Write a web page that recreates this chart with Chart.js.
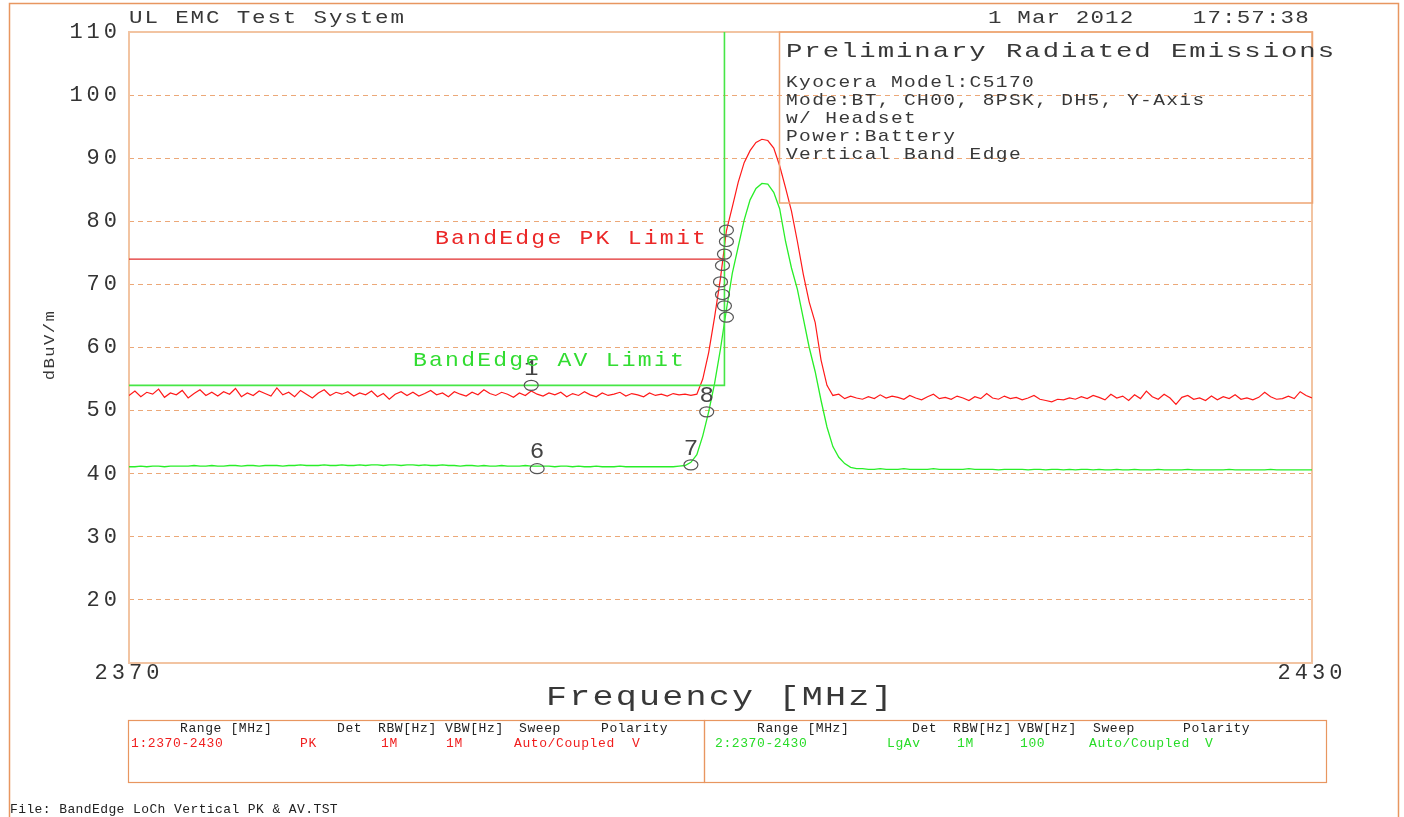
<!DOCTYPE html>
<html>
<head>
<meta charset="utf-8">
<title>Preliminary Radiated Emissions</title>
<script src="https://cdn.jsdelivr.net/npm/chart.js@4.4.1/dist/chart.umd.min.js"></script>
<style>
  html, body { margin: 0; padding: 0; background: #fff; }
  #mycanvas { display: block; }
</style>
</head>
<body>
<canvas id="mycanvas" width="1404" height="817"></canvas>
<script>
// sweep grid 2370 - 2430 MHz, 201 points
var sweepStart = 2370, sweepStep = 0.3, sweepPoints = 201;
var freqMHz = [];
for (var n = 0; n < sweepPoints; n++) freqMHz.push(+(sweepStart + n * sweepStep).toFixed(1));

// trace 1: peak detector (dBuV/m)
var pkLevel = [
  52.4,53.1,52.2,52.9,52.6,53.4,52.1,52.8,52.5,53.2,
  52.0,52.7,53.3,52.4,52.9,52.3,53.0,52.6,53.5,52.2,
  52.8,52.4,53.1,52.7,52.3,53.6,52.5,52.9,52.2,53.2,
  52.6,52.0,52.8,53.3,52.4,52.9,52.6,53.0,52.3,52.8,
  52.5,53.1,52.2,52.7,51.8,52.6,53.0,52.4,52.9,52.3,
  52.7,53.2,52.5,52.8,52.2,53.0,52.6,52.3,52.9,52.5,
  53.3,52.7,52.4,52.9,52.6,52.1,52.8,52.4,53.1,52.6,
  52.3,52.8,52.5,52.9,52.2,52.7,52.4,53.0,52.5,52.2,
  52.8,52.4,52.6,52.9,52.3,52.7,52.5,52.2,52.8,52.4,
  52.6,52.3,52.7,52.5,52.6,52.4,52.6,
  55.0,59.2,64.8,71.0,78.5,82.3,86.2,89.3,91.2,92.5,
  93.0,92.8,91.6,88.8,85.3,81.6,76.8,71.6,67.2,64.0,
  58.0,54.0,52.4,
  52.6,51.9,52.3,52.0,51.8,52.2,51.9,52.5,52.0,52.3,
  52.1,51.8,52.4,52.0,51.7,52.2,52.6,51.9,52.1,51.8,
  52.3,52.0,51.6,52.2,51.9,52.7,52.0,51.8,52.3,51.9,
  52.1,51.7,52.0,52.4,51.8,51.6,51.4,51.8,51.7,52.0,
  51.8,52.2,51.9,52.4,52.1,51.7,52.6,52.0,52.3,51.6,
  52.5,51.9,53.1,52.2,51.8,52.6,52.0,51.0,52.1,52.4,
  51.8,52.0,51.6,52.3,51.7,52.2,51.9,52.5,51.8,52.0,
  51.7,52.1,52.9,52.2,51.8,51.9,52.3,51.9,53.0,52.4,
  52.0
];

// trace 2: log average detector (dBuV/m)
var avLevel = [
  41.1,41.1,41.2,41.1,41.2,41.2,41.1,41.2,41.2,41.2,
  41.2,41.3,41.2,41.2,41.3,41.2,41.2,41.3,41.3,41.2,
  41.3,41.3,41.2,41.3,41.3,41.3,41.2,41.3,41.3,41.4,
  41.3,41.3,41.3,41.4,41.3,41.3,41.4,41.3,41.3,41.4,
  41.3,41.4,41.4,41.3,41.4,41.4,41.3,41.4,41.4,41.3,
  41.4,41.3,41.3,41.4,41.3,41.3,41.2,41.3,41.3,41.2,
  41.3,41.2,41.2,41.3,41.2,41.2,41.2,41.3,41.2,41.2,
  41.2,41.2,41.1,41.2,41.2,41.1,41.2,41.1,41.1,41.2,
  41.1,41.1,41.1,41.2,41.1,41.1,41.1,41.1,41.1,41.1,
  41.1,41.1,41.1,41.2,
  41.3,41.8,43.0,46.0,49.8,54.3,59.8,66.0,71.8,76.0,
  80.2,83.4,85.2,86.0,85.9,84.6,82.0,76.8,72.6,69.2,
  64.6,60.0,56.2,51.6,47.4,44.3,42.6,41.6,41.0,40.8,
  40.8,40.7,40.7,40.8,40.7,40.7,40.7,40.8,40.7,40.7,
  40.7,40.7,40.8,40.7,40.7,40.7,40.7,40.7,40.8,40.7,
  40.7,40.7,40.7,40.6,40.7,40.7,40.7,40.7,40.6,40.7,
  40.7,40.6,40.7,40.7,40.6,40.7,40.6,40.7,40.7,40.6,
  40.7,40.6,40.6,40.7,40.6,40.6,40.7,40.6,40.6,40.6,
  40.7,40.6,40.6,40.6,40.6,40.7,40.6,40.6,40.6,40.6,
  40.6,40.6,40.7,40.6,40.6,40.6,40.6,40.6,40.6,40.7,
  40.6,40.6,40.6,40.6,40.6,40.6,40.6
];

// band edge limits
var pkLimitFreq = [2370, 2400.2];
var pkLimitLevel = [74, 74];
var avLimitFreq = [2370, 2400.2, 2400.2];
var avLimitLevel = [54, 54, 110];

// markers
var markerFreq  = [2390.4, 2390.7, 2398.5, 2399.3, 2400.3, 2400.3, 2400.2, 2400.1, 2400.0, 2400.1, 2400.2, 2400.3];
var markerLevel = [54.0, 40.8, 41.4, 49.8, 78.6, 76.8, 74.8, 73.0, 70.4, 68.4, 66.6, 64.8];
var markerLabel = ['1', '6', '7', '8', '', '', '', '', '', '', '', ''];

// axes
var xTicks = [2370, 2430];
var yTicks = [20, 30, 40, 50, 60, 70, 80, 90, 100, 110];

var infoLines = ['Kyocera Model:C5170', 'Mode:BT, CH00, 8PSK, DH5, Y-Axis', 'w/ Headset', 'Power:Battery', 'Vertical Band Edge'];

var MONO = '"Liberation Mono", "DejaVu Sans Mono", monospace';
var ORANGE = 'rgb(232,150,96)';

// text drawn with a horizontal stretch to imitate the wide plotter font
function txt(c, s, x, y, size, color, sx, spacing, align) {
    c.save();
    c.translate(x, y);
    c.scale(sx, 1);
    c.font = size + 'px ' + MONO;
    c.fillStyle = color;
    c.letterSpacing = spacing + 'px';
    c.textAlign = align || 'left';
    c.textBaseline = 'middle';
    c.fillText(s, 0, 0);
    c.restore();
}

var framePlugin = {
    id: 'frame',
    beforeDraw: function(chart) {
        chart.ctx.letterSpacing = '4px';
    },
    beforeDatasetsDraw: function(chart) {
        var c = chart.ctx, a = chart.chartArea;
        c.save();
        c.strokeStyle = 'rgb(242,196,162)';
        c.lineWidth = 2;
        c.strokeRect(a.left, a.top, a.right - a.left, a.bottom - a.top);
        c.restore();
    },
    afterDatasetsDraw: function(chart) {
        var c = chart.ctx, xs = chart.scales.x, ys = chart.scales.y;
        c.save();
        c.strokeStyle = '#555';
        c.lineWidth = 1.2;
        for (var i = 0; i < markerFreq.length; i++) {
            var px = xs.getPixelForValue(markerFreq[i]);
            var py = ys.getPixelForValue(markerLevel[i]);
            c.beginPath();
            c.ellipse(px, py, 7, 5, 0, 0, Math.PI * 2);
            c.stroke();
            if (markerLabel[i]) txt(c, markerLabel[i], px, py - 16, 22, '#444', 1.1, 0, 'center');
        }
        c.restore();
    },
    afterDraw: function(chart) {
        var c = chart.ctx;
        c.save();
        // outer frame
        c.strokeStyle = ORANGE;
        c.lineWidth = 1.5;
        c.beginPath();
        c.moveTo(9.5, 817); c.lineTo(9.5, 3.5); c.lineTo(1398.5, 3.5); c.lineTo(1398.5, 817);
        c.stroke();
        // info box
        c.strokeStyle = 'rgb(238,165,115)';
        c.lineWidth = 1.5;
        c.strokeRect(779.5, 32, 533, 171);
        // table boxes
        c.strokeStyle = ORANGE;
        c.lineWidth = 1.2;
        c.strokeRect(128.5, 720.5, 576, 62);
        c.strokeRect(704.5, 720.5, 622, 62);
        c.restore();

        var ink = '#383838';
        txt(c, 'UL EMC Test System', 129, 18, 18, ink, 1.25, 1.5);
        txt(c, '1 Mar 2012    17:57:38', 988, 18, 18, ink, 1.25, 0.9);
        txt(c, 'Preliminary Radiated Emissions', 786, 51, 21, ink, 1.3, 1.5);
        for (var i = 0; i < infoLines.length; i++) txt(c, infoLines[i], 786, 82 + i * 18, 17, ink, 1.15, 1.2);
        txt(c, 'BandEdge PK Limit', 435, 238, 21, 'rgb(235,40,40)', 1.1, 2);
        txt(c, 'BandEdge AV Limit', 413, 360, 21, 'rgb(50,220,50)', 1.1, 2);
        txt(c, 'Frequency [MHz]', 546, 698, 28, ink, 1.25, 1.8);

        c.save();
        c.translate(50, 345);
        c.rotate(-Math.PI / 2);
        txt(c, 'dBuV/m', 0, 0, 15, ink, 1.15, 1.2, 'center');
        c.restore();

        // table
        var hdr = [['Range [MHz]', 180], ['Det', 337], ['RBW[Hz]', 378], ['VBW[Hz]', 445], ['Sweep', 519], ['Polarity', 601],
                   ['Range [MHz]', 757], ['Det', 912], ['RBW[Hz]', 953], ['VBW[Hz]', 1018], ['Sweep', 1093], ['Polarity', 1183]];
        hdr.forEach(function(h) { txt(c, h[0], h[1], 729, 13, '#222', 1, 0.6); });
        var row1 = [['1:2370-2430', 131], ['PK', 300], ['1M', 381], ['1M', 446], ['Auto/Coupled', 514], ['V', 632]];
        var row2 = [['2:2370-2430', 715], ['LgAv', 887], ['1M', 957], ['100', 1020], ['Auto/Coupled', 1089], ['V', 1205]];
        row1.forEach(function(h) { txt(c, h[0], h[1], 744, 13, 'rgb(240,30,30)', 1, 0.6); });
        row2.forEach(function(h) { txt(c, h[0], h[1], 744, 13, 'rgb(40,220,40)', 1, 0.6); });

        txt(c, 'File: BandEdge LoCh Vertical PK & AV.TST', 10, 810, 13, '#222', 1, 0.4);
    }
};

function pairs(fs, ls) {
    return fs.map(function(f, i) { return { x: f, y: ls[i] }; });
}

var ctx = document.getElementById('mycanvas');
var chart = new Chart(ctx, {
    type: 'line',
    data: {
        datasets: [
            { label: 'PK Limit', data: pairs(pkLimitFreq, pkLimitLevel), borderColor: 'rgb(225,45,45)', borderWidth: 1.2 },
            { label: 'AV Limit', data: pairs(avLimitFreq, avLimitLevel), borderColor: 'rgb(70,230,70)', borderWidth: 1.6 },
            { label: 'LgAv', data: pairs(freqMHz, avLevel), borderColor: 'rgb(40,238,40)', borderWidth: 1.3 },
            { label: 'PK', data: pairs(freqMHz, pkLevel), borderColor: 'rgb(255,25,25)', borderWidth: 1.2 }
        ]
    },
    options: {
        responsive: false,
        animation: false,
        devicePixelRatio: 1,
        layout: { padding: { left: 0, right: 92, top: 32, bottom: 104 } },
        elements: { point: { radius: 0 }, line: { tension: 0, fill: false } },
        plugins: { legend: { display: false }, tooltip: { enabled: false } },
        scales: {
            x: {
                type: 'linear', min: 2370, max: 2430,
                afterFit: function(s) { s.height = 50; },
                afterBuildTicks: function(s) { s.ticks = xTicks.map(function(v) { return { value: v }; }); },
                grid: { display: false },
                border: { display: false },
                ticks: {
                    font: { family: MONO, size: 22 }, color: '#333', padding: -11, maxRotation: 0, autoSkip: false,
                    callback: function(v) { return String(v); }
                }
            },
            y: {
                type: 'linear', min: 10, max: 110,
                afterFit: function(s) { s.width = 129; },
                afterBuildTicks: function(s) { s.ticks = yTicks.map(function(v) { return { value: v }; }); },
                grid: { color: 'rgb(236,168,120)', lineWidth: 1, drawTicks: false },
                border: { display: false, dash: [5, 4] },
                ticks: { font: { family: MONO, size: 22 }, color: '#333', padding: 8 }
            }
        }
    },
    plugins: [framePlugin]
});
</script>
</body>
</html>
